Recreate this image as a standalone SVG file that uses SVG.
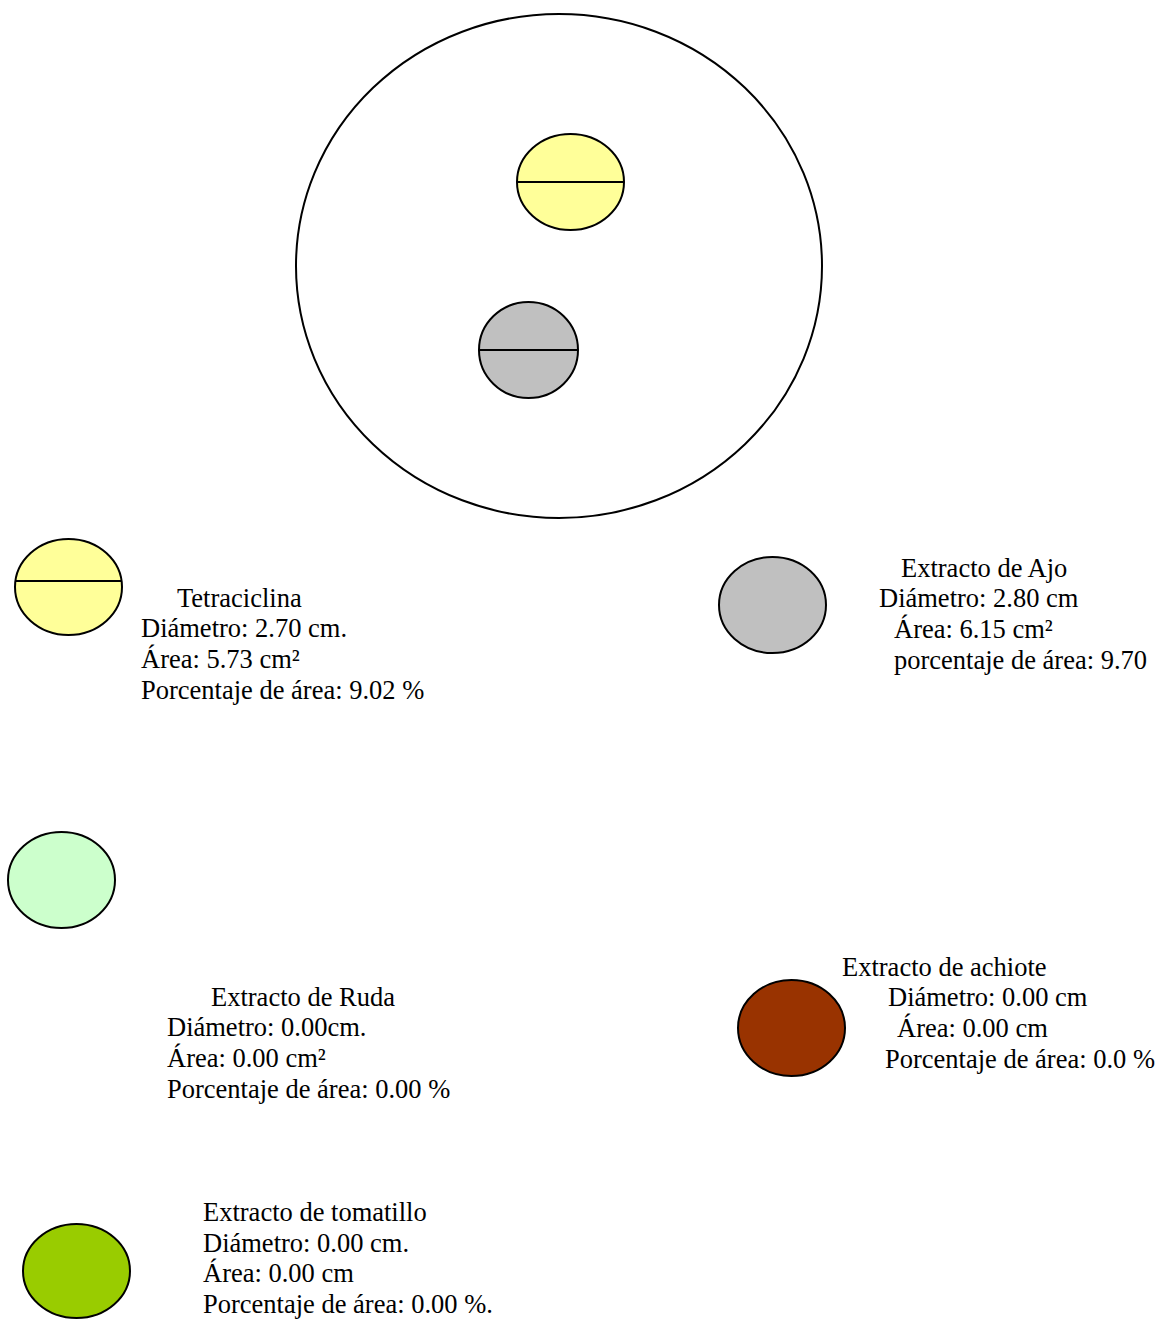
<svg xmlns="http://www.w3.org/2000/svg" width="1158" height="1319" viewBox="0 0 1158 1319">
  <style>
    .disc { stroke: #000; stroke-width: 2; }
    .cut { stroke: #000; stroke-width: 2; }
    text { font-family: "Liberation Serif", "Times New Roman", serif; font-size: 26.5px; fill: #000; }
  </style>
  <rect width="1158" height="1319" fill="#fff"/>

  <!-- Petri dish with the two test discs -->
  <g id="dish">
    <ellipse class="disc" cx="559" cy="266" rx="263" ry="252" fill="#fff"/>
    <ellipse class="disc" cx="570.5" cy="182" rx="53.5" ry="48" fill="#FFFF99"/>
    <line class="cut" x1="517" y1="182" x2="624" y2="182"/>
    <ellipse class="disc" cx="528.5" cy="350" rx="49.5" ry="48" fill="#C0C0C0"/>
    <line class="cut" x1="479" y1="350" x2="578" y2="350"/>
  </g>

  <!-- Legend: Tetraciclina -->
  <g id="tetraciclina">
    <ellipse class="disc" cx="68.5" cy="587" rx="53.5" ry="48" fill="#FFFF99"/>
    <line class="cut" x1="15" y1="581" x2="122" y2="581"/>
    <text x="177" y="607">Tetraciclina</text>
    <text x="141" y="637">Diámetro: 2.70 cm.</text>
    <text x="141" y="668">Área: 5.73 cm²</text>
    <text x="141" y="699">Porcentaje de área: 9.02 %</text>
  </g>

  <!-- Legend: Extracto de Ajo -->
  <g id="ajo">
    <ellipse class="disc" cx="772.5" cy="605" rx="53.5" ry="48" fill="#C0C0C0"/>
    <text x="901" y="577">Extracto de Ajo</text>
    <text x="879" y="607">Diámetro: 2.80 cm</text>
    <text x="894" y="638">Área: 6.15 cm²</text>
    <text x="894" y="669">porcentaje de área: 9.70</text>
  </g>

  <!-- Legend: Extracto de Ruda -->
  <g id="ruda">
    <ellipse class="disc" cx="61.5" cy="880" rx="53.5" ry="48" fill="#CCFFCC"/>
    <text x="211" y="1006">Extracto de Ruda</text>
    <text x="167" y="1036">Diámetro: 0.00cm.</text>
    <text x="167" y="1067">Área: 0.00 cm²</text>
    <text x="167" y="1098">Porcentaje de área: 0.00 %</text>
  </g>

  <!-- Legend: Extracto de achiote -->
  <g id="achiote">
    <ellipse class="disc" cx="791.5" cy="1028" rx="53.5" ry="48" fill="#993300"/>
    <text x="842" y="976">Extracto de achiote</text>
    <text x="888" y="1006">Diámetro: 0.00 cm</text>
    <text x="897" y="1037">Área: 0.00 cm</text>
    <text x="885" y="1068">Porcentaje de área: 0.0 %</text>
  </g>

  <!-- Legend: Extracto de tomatillo -->
  <g id="tomatillo">
    <ellipse class="disc" cx="76.5" cy="1271" rx="53.5" ry="47" fill="#99CC00"/>
    <text x="203" y="1221">Extracto de tomatillo</text>
    <text x="203" y="1252">Diámetro: 0.00 cm.</text>
    <text x="203" y="1282">Área: 0.00 cm</text>
    <text x="203" y="1313">Porcentaje de área: 0.00 %.</text>
  </g>

  <!-- no connectors in this figure -->
  <g id="connectors"/>
</svg>
